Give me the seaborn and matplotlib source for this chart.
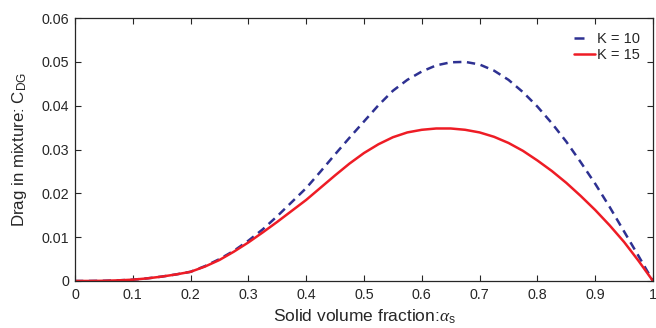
import numpy as np
import pandas as pd
import matplotlib
matplotlib.use("Agg")
import matplotlib.pyplot as plt
import seaborn as sns
from matplotlib.ticker import FixedLocator, FixedFormatter

# ---- data ----
alpha_s = [0.0, 0.025, 0.05, 0.075, 0.1, 0.125, 0.15, 0.175, 0.2, 0.225, 0.25,
           0.275, 0.3, 0.325, 0.35, 0.375, 0.4, 0.425, 0.45, 0.475, 0.5,
           0.525, 0.55, 0.575, 0.6, 0.625, 0.65, 0.675, 0.7, 0.725, 0.75,
           0.775, 0.8, 0.825, 0.85, 0.875, 0.9, 0.925, 0.95, 0.975, 1.0]
cdg_k10 = [0.0, 0.00001, 0.00005, 0.00015, 0.0003, 0.0006, 0.001, 0.0015, 0.0021,
           0.0034, 0.0050, 0.0069, 0.0092, 0.0118, 0.0148, 0.0180, 0.0212,
           0.0250, 0.0289, 0.0327, 0.0364, 0.0401, 0.0434, 0.0459, 0.0478,
           0.0492, 0.0499, 0.0500, 0.0494, 0.0480, 0.0459, 0.0431, 0.0398,
           0.0360, 0.0318, 0.0271, 0.0222, 0.0169, 0.0113, 0.0057, 0.0]
cdg_k15 = [0.0, 0.00001, 0.00005, 0.00015, 0.0003, 0.0006, 0.001, 0.0015, 0.0021,
           0.0033, 0.0048, 0.0067, 0.0088, 0.0111, 0.0135, 0.0160, 0.0185,
           0.0213, 0.0241, 0.0268, 0.0292, 0.0312, 0.0328, 0.0339, 0.0345,
           0.0348, 0.0348, 0.0345, 0.0339, 0.0329, 0.0315, 0.0297, 0.0275,
           0.0251, 0.0224, 0.0194, 0.0162, 0.0127, 0.0089, 0.0046, 0.0]
series_labels = ["K = 10", "K = 15"]
x_ticks = [0, 0.1, 0.2, 0.3, 0.4, 0.5, 0.6, 0.7, 0.8, 0.9, 1.0]
x_ticklabels = ["0", "0.1", "0.2", "0.3", "0.4", "0.5", "0.6", "0.7", "0.8", "0.9", "1"]
y_ticks = [0, 0.01, 0.02, 0.03, 0.04, 0.05, 0.06]
y_ticklabels = ["0", "0.01", "0.02", "0.03", "0.04", "0.05", "0.06"]

df = pd.DataFrame({
    "alpha": alpha_s * 2,
    "cdg": cdg_k10 + cdg_k15,
    "K": [series_labels[0]] * len(alpha_s) + [series_labels[1]] * len(alpha_s),
})

sns.set_style("ticks")
plt.rcParams["font.family"] = ["Liberation Sans", "DejaVu Sans"]
plt.rcParams["mathtext.fontset"] = "custom"
plt.rcParams["mathtext.rm"] = "Liberation Sans"
plt.rcParams["mathtext.it"] = "Liberation Serif:italic"
plt.rcParams["lines.scale_dashes"] = False

axcol = "#262626"
fig = plt.figure(figsize=(6.56, 3.28), dpi=100)
ax = fig.add_axes([0.1143, 0.1433, 0.8811, 0.8017])

colors = {"K = 10": "#2E3192", "K = 15": "#EE1C25"}
sns.lineplot(data=df, x="alpha", y="cdg", hue="K", style="K",
             palette=colors, dashes={"K = 10": (6, 4), "K = 15": ""},
             linewidth=1.8, ax=ax, sort=False, estimator=None)

ax.set_xlim(0, 1)
ax.set_ylim(0, 0.06)
ax.xaxis.set_major_locator(FixedLocator(x_ticks))
ax.xaxis.set_major_formatter(FixedFormatter(x_ticklabels))
ax.yaxis.set_major_locator(FixedLocator(y_ticks))
ax.yaxis.set_major_formatter(FixedFormatter(y_ticklabels))
ax.tick_params(direction="in", length=4, width=0.8, colors=axcol,
               labelsize=10.3, top=True, right=True)
ax.tick_params(axis="x", pad=5)
ax.tick_params(axis="y", pad=4)
for s in ax.spines.values():
    s.set_color(axcol)
    s.set_linewidth(0.9)
    s.set_visible(True)

ax.set_xlabel(r"Solid volume fraction:$\alpha_{\mathrm{s}}$", fontsize=12.5,
              color=axcol, labelpad=4)
ax.set_ylabel(r"Drag in mixture: C$_{\mathrm{DG}}$", fontsize=12.2,
              color=axcol, labelpad=9)

leg = ax.legend(loc="upper right", frameon=False, fontsize=10.5,
                handlelength=1.45, handletextpad=0.1, labelspacing=0.15,
                bbox_to_anchor=(0.995, 0.985), borderaxespad=0.3)
for t in leg.get_texts():
    t.set_color(axcol)
leg_lines = leg.get_lines()
leg_lines[0].set_linestyle((0, (7.2, 20)))
for ln in leg_lines:
    ln.set_linewidth(1.8)

fig.savefig("out.png", dpi=100)
